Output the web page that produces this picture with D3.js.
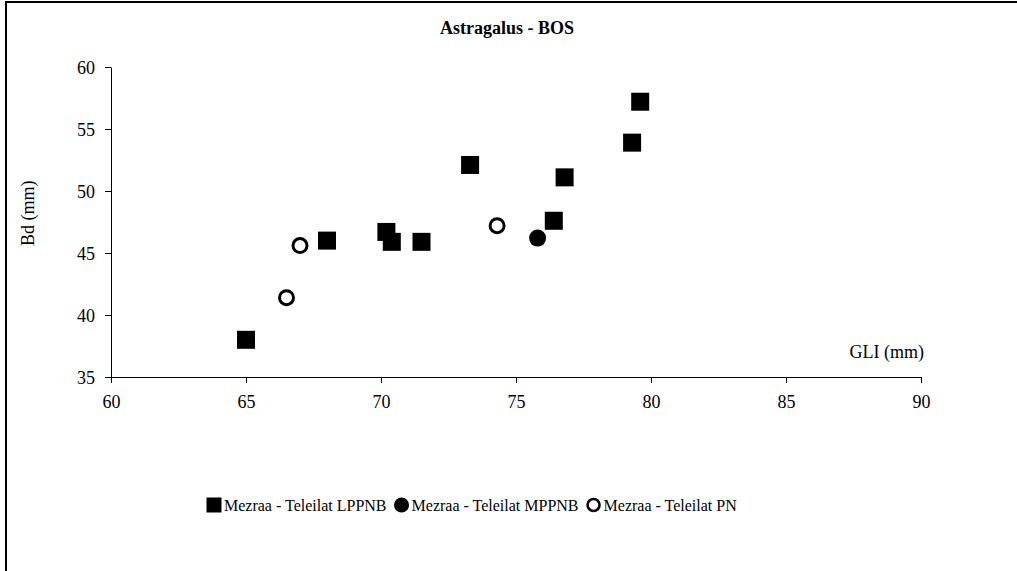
<!DOCTYPE html>
<html>
<head>
<meta charset="utf-8">
<script src="https://cdn.jsdelivr.net/npm/d3@7"></script>
<style>
  body { margin: 0; background: #fff; }
  svg { font-family: "Liberation Serif", "Times New Roman", serif; }
</style>
</head>
<body>
<svg id="chart" width="1017" height="571"></svg>
<script>
// series
const lppnbX = [65.0, 68.0, 70.2, 70.4, 71.5, 73.3, 76.4, 76.8, 79.3, 79.6];
const lppnbY = [38.0, 46.0, 46.7, 45.9, 45.9, 52.1, 47.6, 51.1, 53.9, 57.2];
const mppnbX = [75.8];
const mppnbY = [46.2];
const pnX = [66.5, 67.0, 74.3];
const pnY = [41.4, 45.6, 47.2];

const xTicks = [60, 65, 70, 75, 80, 85, 90];
const yTicks = [35, 40, 45, 50, 55, 60];
const seriesNames = ["Mezraa - Teleilat LPPNB", "Mezraa - Teleilat MPPNB", "Mezraa - Teleilat PN"];

(() => {
    let svg = d3.select("svg#chart"),
        x = d3.scaleLinear().domain([60, 90]).range([111, 921]),
        y = d3.scaleLinear().domain([35, 60]).range([377, 67]),
        fs = 18;

    // outer frame (right / bottom edges run off the picture)
    svg.append("rect")
        .attr("x", 6).attr("y", 2)
        .attr("width", 1030).attr("height", 600)
        .attr("fill", "none").attr("stroke", "#000").attr("stroke-width", 2);

    svg.append("text")
        .attr("x", 507).attr("y", 34)
        .attr("text-anchor", "middle")
        .attr("font-weight", "bold")
        .attr("font-size", fs)
        .text("Astragalus - BOS");

    let xAxis = svg.append("g")
        .attr("transform", "translate(0," + y(35) + ")")
        .call(d3.axisBottom(x).tickValues(xTicks).tickSize(6).tickPadding(12).tickSizeOuter(0));
    let yAxis = svg.append("g")
        .attr("transform", "translate(" + x(60) + ",0)")
        .call(d3.axisLeft(y).tickValues(yTicks).tickSize(6).tickPadding(10).tickSizeOuter(0));

    [xAxis, yAxis].forEach(a => {
        a.attr("font-family", null).attr("font-size", null);
        a.selectAll("text").attr("font-size", fs).attr("fill", "#000");
        a.selectAll("line, path").attr("stroke", "#000");
    });
    yAxis.selectAll("text").attr("dy", "0.35em");

    svg.append("text")
        .attr("transform", "translate(34," + y(48.2) + ") rotate(-90)")
        .attr("text-anchor", "middle")
        .attr("font-size", fs)
        .text("Bd (mm)");

    svg.append("text")
        .attr("x", 924).attr("y", 358)
        .attr("text-anchor", "end")
        .attr("font-size", fs)
        .text("GLI (mm)");

    let sq = 18;
    svg.append("g").selectAll("rect")
        .data(d3.zip(lppnbX, lppnbY))
        .enter().append("rect")
        .attr("x", d => x(d[0]) - sq / 2)
        .attr("y", d => y(d[1]) - sq / 2)
        .attr("width", sq).attr("height", sq)
        .attr("fill", "#000");

    svg.append("g").selectAll("circle")
        .data(d3.zip(mppnbX, mppnbY))
        .enter().append("circle")
        .attr("cx", d => x(d[0]))
        .attr("cy", d => y(d[1]))
        .attr("r", 8.5)
        .attr("fill", "#000");

    svg.append("g").selectAll("circle")
        .data(d3.zip(pnX, pnY))
        .enter().append("circle")
        .attr("cx", d => x(d[0]))
        .attr("cy", d => y(d[1]))
        .attr("r", 7)
        .attr("fill", "#fff")
        .attr("stroke", "#000")
        .attr("stroke-width", 3);

    // legend, laid out left to right
    let lx = 214,
        legend = svg.append("g").attr("font-size", 16);

    seriesNames.forEach((d, i) => {
        let g = legend.append("g").attr("transform", "translate(" + lx + ",505)");
        if (i === 0) {
            g.append("rect").attr("x", -7.5).attr("y", -7.5).attr("width", 15).attr("height", 15).attr("fill", "#000");
        } else if (i === 1) {
            g.append("circle").attr("r", 7.5).attr("fill", "#000");
        } else {
            g.append("circle").attr("r", 6).attr("fill", "#fff").attr("stroke", "#000").attr("stroke-width", 2.5);
        }
        let t = g.append("text")
            .attr("x", 10)
            .attr("dy", "0.35em")
            .text(d);
        lx += 10 + t.node().getComputedTextLength() + 15;
    });
})();
</script>
</body>
</html>
